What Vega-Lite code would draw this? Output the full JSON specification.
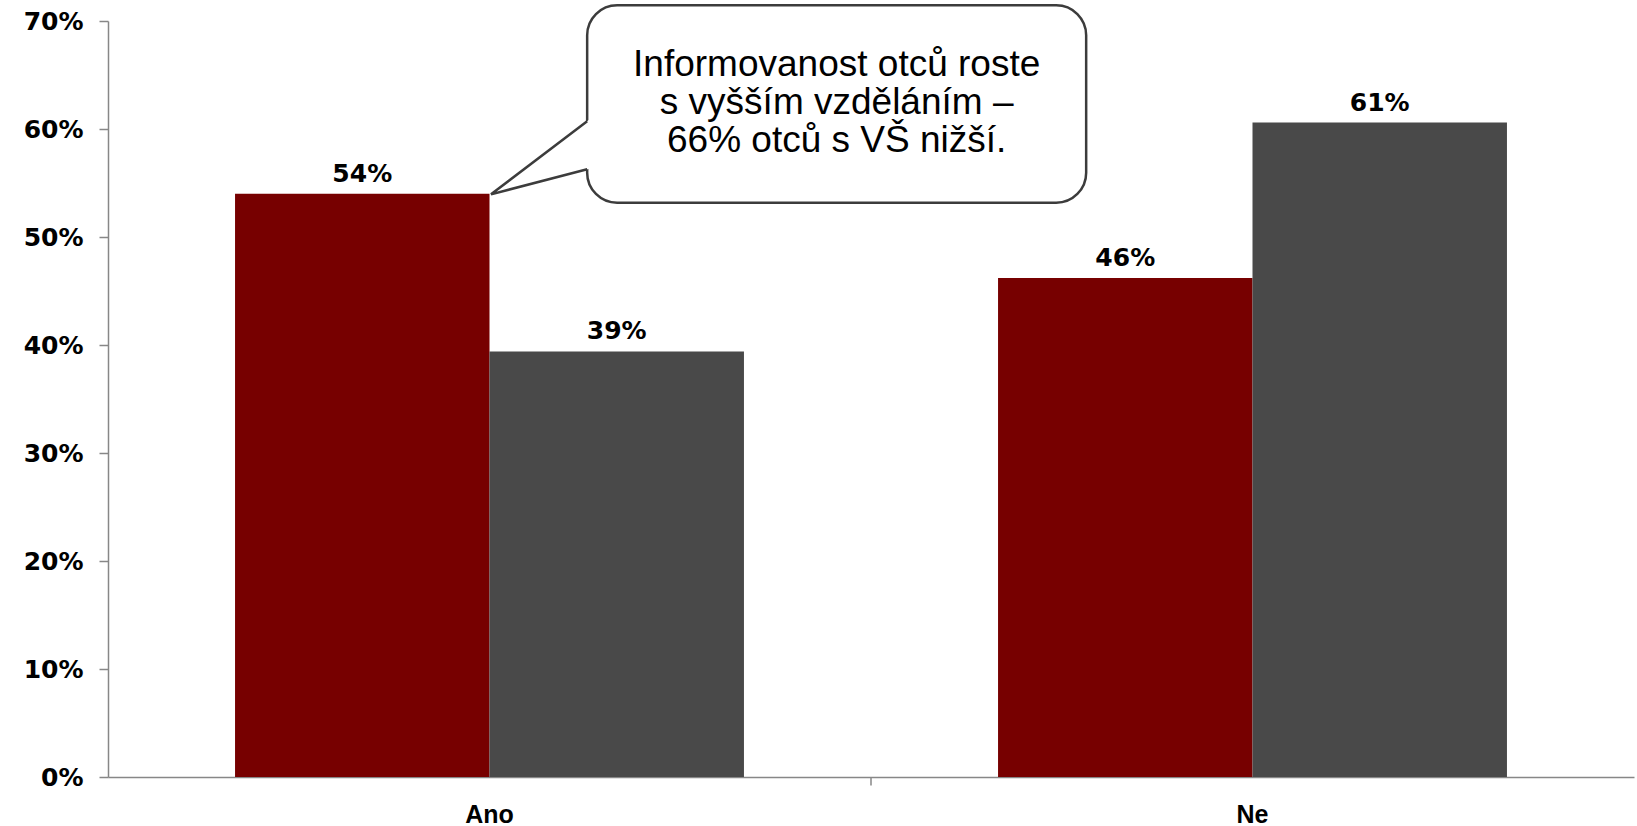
{
  "$schema": "https://vega.github.io/schema/vega-lite/v6.json",
  "width": 1526,
  "height": 756,
  "autosize": {"type": "none"},
  "padding": {"left": 108, "top": 21, "right": 3, "bottom": 49},
  "background": "white",
  "config": {
    "view": {"stroke": null},
    "axis": {"grid": false, "domainColor": "#878787", "tickColor": "#878787", "domainWidth": 1.5, "tickWidth": 1.5, "labelColor": "#000000"}
  },
  "datasets": {
    "bars": [
      {"cat": "Ano", "series": "Série 1", "v": 0.54},
      {"cat": "Ano", "series": "Série 2", "v": 0.394},
      {"cat": "Ne", "series": "Série 1", "v": 0.462},
      {"cat": "Ne", "series": "Série 2", "v": 0.606}
    ],
    "box": [{"x1": 0.628, "x2": 1.282, "y1": 0.7145, "y2": 0.5318}],
    "tri": [
      {"x": 0.502, "ya": 0.5395, "yb": 0.5395},
      {"x": 0.640, "ya": 0.6136, "yb": 0.5649}
    ],
    "edges": [
      {"x": 0.628, "v": 0.6072, "o": 1},
      {"x": 0.502, "v": 0.5395, "o": 2},
      {"x": 0.628, "v": 0.5627, "o": 3}
    ],
    "tick": [{"x": 1, "v": 0, "v2": -0.0078}],
    "note": [{"x": 0.955, "v": 0.659, "t": "Informovanost otců roste\ns vyšším vzděláním –\n66% otců s VŠ nižší."}]
  },
  "layer": [
    {
      "data": {"name": "bars"},
      "encoding": {
        "x": {
          "field": "cat", "type": "nominal", "sort": ["Ano", "Ne"], "title": null,
          "scale": {"paddingInner": 0.333, "paddingOuter": 0.1665},
          "axis": {"labelAngle": 0, "ticks": false, "labelPadding": 25, "labelFont": "Liberation Sans", "labelFontWeight": "bold", "labelFontSize": 25}
        },
        "xOffset": {"field": "series", "type": "nominal", "sort": ["Série 1", "Série 2"]},
        "y": {
          "field": "v", "type": "quantitative", "title": null,
          "scale": {"domain": [0, 0.7], "nice": false},
          "axis": {"values": [0, 0.1, 0.2, 0.3, 0.4, 0.5, 0.6, 0.7], "format": ".0%", "tickSize": 9, "labelPadding": 16, "labelFont": "DejaVu Sans", "labelFontWeight": "bold", "labelFontSize": 25}
        }
      },
      "layer": [
        {
          "mark": {"type": "bar"},
          "encoding": {
            "color": {"field": "series", "type": "nominal", "scale": {"domain": ["Série 1", "Série 2"], "range": ["#770000", "#494949"]}, "legend": null}
          }
        },
        {
          "mark": {"type": "text", "font": "DejaVu Sans", "fontWeight": "bold", "fontSize": 25, "baseline": "alphabetic", "dy": -12, "color": "#000000"},
          "encoding": {"text": {"field": "v", "type": "quantitative", "format": ".0%"}}
        }
      ]
    },
    {
      "encoding": {},
      "layer": [
        {
          "data": {"name": "tick"},
          "mark": {"type": "rule", "color": "#878787", "strokeWidth": 1.5},
          "encoding": {
            "x": {"field": "x", "type": "quantitative", "scale": {"domain": [0, 2], "nice": false, "zero": false}, "axis": null},
            "y": {"field": "v", "type": "quantitative", "title": null},
            "y2": {"field": "v2"}
          }
        },
        {
          "data": {"name": "box"},
          "mark": {"type": "rect", "cornerRadius": 30, "fill": "#9a9a9a", "opacity": 0.4, "xOffset": 3, "yOffset": 3},
          "encoding": {
            "x": {"field": "x1", "type": "quantitative", "axis": null},
            "x2": {"field": "x2"},
            "y": {"field": "y1", "type": "quantitative", "title": null},
            "y2": {"field": "y2"}
          }
        },
        {
          "data": {"name": "box"},
          "mark": {"type": "rect", "cornerRadius": 30, "fill": "white", "stroke": "#3c3c3c", "strokeWidth": 2.5},
          "encoding": {
            "x": {"field": "x1", "type": "quantitative", "axis": null},
            "x2": {"field": "x2"},
            "y": {"field": "y1", "type": "quantitative", "title": null},
            "y2": {"field": "y2"}
          }
        },
        {
          "data": {"name": "tri"},
          "mark": {"type": "area", "fill": "white", "opacity": 1},
          "encoding": {
            "x": {"field": "x", "type": "quantitative", "axis": null},
            "y": {"field": "ya", "type": "quantitative", "title": null},
            "y2": {"field": "yb"}
          }
        },
        {
          "data": {"name": "edges"},
          "mark": {"type": "line", "stroke": "#3c3c3c", "strokeWidth": 2.5},
          "encoding": {
            "x": {"field": "x", "type": "quantitative", "axis": null},
            "y": {"field": "v", "type": "quantitative", "title": null},
            "order": {"field": "o"}
          }
        },
        {
          "data": {"name": "note"},
          "mark": {"type": "text", "font": "Liberation Sans", "fontSize": 37, "lineHeight": 38, "lineBreak": "\n", "align": "center", "baseline": "middle", "color": "#000000"},
          "encoding": {
            "x": {"field": "x", "type": "quantitative", "axis": null},
            "y": {"field": "v", "type": "quantitative", "title": null},
            "text": {"field": "t"}
          }
        }
      ]
    }
  ],
  "resolve": {"scale": {"x": "independent"}, "axis": {"x": "independent"}}
}
